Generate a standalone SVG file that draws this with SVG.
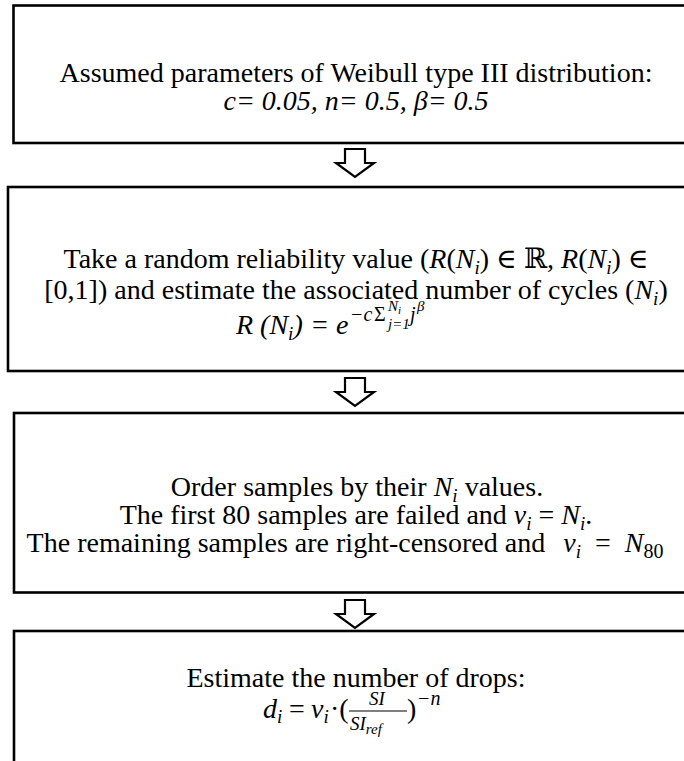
<svg xmlns="http://www.w3.org/2000/svg" width="684" height="761" viewBox="0 0 684 761">
  <style>
    .box { fill: #ffffff; stroke: #000000; stroke-width: 2.6; }
    .arrow { fill: #ffffff; stroke: #000000; stroke-width: 2.2; stroke-linejoin: miter; }
    text { font-family: "Liberation Serif", "DejaVu Serif", serif; font-size: 28px; fill: #000000; }
    .c { text-anchor: middle; }
    .m { font-style: italic; }
    .s { font-size: 19px; }
    .e { font-size: 20px; }
    .ss { font-size: 15px; }
  </style>
  <defs>
    <path id="down" d="M -10,0 H 10 V 14 H 19 L 0,28 L -19,14 H -10 Z"/>
  </defs>
  <rect width="684" height="761" fill="#ffffff"/>

  <g id="connectors">
    <use href="#down" class="arrow" transform="translate(355,149)"/>
    <use href="#down" class="arrow" transform="translate(355,378)"/>
    <use href="#down" class="arrow" transform="translate(355,600)"/>
  </g>

  <!-- Step 1: assumed distribution parameters -->
  <g id="step-parameters">
    <rect class="box" x="13.5" y="5.5" width="700" height="137.5"/>
    <text class="c" x="356" y="82">Assumed parameters of Weibull type III distribution:</text>
    <text class="c m" x="356" y="110">c= 0.05, n= 0.5, β= 0.5</text>
  </g>

  <!-- Step 2: random reliability value and cycles -->
  <g id="step-reliability">
    <rect class="box" x="8" y="187" width="700" height="184"/>
    <text class="c" x="356" y="268">Take a random reliability value (<tspan class="m">R</tspan>(<tspan class="m">N</tspan><tspan class="s m" dy="6">i</tspan><tspan dy="-6">) ∈ ℝ, </tspan><tspan class="m">R</tspan>(<tspan class="m">N</tspan><tspan class="s m" dy="6">i</tspan><tspan dy="-6">) ∈</tspan></text>
    <text class="c" x="356" y="299">[0,1]) and estimate the associated number of cycles (<tspan class="m">N</tspan><tspan class="s m" dy="6">i</tspan><tspan dy="-6">)</tspan></text>
    <!-- R(N_i) = e^(-c * sum_{j=1}^{N_i} j^beta) -->
    <text class="m" x="236" y="334">R (N<tspan class="s" dy="6">i</tspan><tspan dy="-6">)</tspan></text>
    <text x="312" y="334">=</text>
    <text class="m" x="336" y="334">e</text>
    <text class="m e" x="350" y="321">−c</text>
    <text class="e" x="374" y="321">Σ</text>
    <text class="m ss" x="388" y="311">N<tspan font-size="11" dy="3">i</tspan></text>
    <text class="m ss" x="388" y="329">j=1</text>
    <text class="m e" x="410" y="321">j</text>
    <text class="m ss" x="417" y="311">β</text>
  </g>

  <!-- Step 3: ordering and censoring -->
  <g id="step-censoring">
    <rect class="box" x="14" y="413" width="700" height="179.5"/>
    <text class="c" x="357" y="496">Order samples by their <tspan class="m">N</tspan><tspan class="s m" dy="6">i</tspan><tspan dy="-6"> values.</tspan></text>
    <text class="c" x="356" y="524">The first 80 samples are failed and <tspan class="m">v</tspan><tspan class="s m" dy="6">i</tspan><tspan dy="-6"> = </tspan><tspan class="m">N</tspan><tspan class="s m" dy="6">i</tspan><tspan dy="-6">.</tspan></text>
    <text class="c" x="345" y="552">The remaining samples are right-censored and<tspan class="m" dx="18">v</tspan><tspan class="s m" dy="6">i</tspan><tspan dy="-6" dx="14">=</tspan><tspan class="m" dx="14">N</tspan><tspan class="e" dy="6">80</tspan></text>
  </g>

  <!-- Step 4: number of drops -->
  <g id="step-drops">
    <rect class="box" x="14" y="631" width="700" height="200"/>
    <text class="c" x="356" y="687">Estimate the number of drops:</text>
    <text class="m" x="263" y="718">d<tspan class="s" dy="5">i</tspan></text>
    <text x="289" y="718">=</text>
    <text class="m" x="311" y="718">v<tspan class="s" dy="5">i</tspan></text>
    <text x="330" y="718">·(</text>
    <text class="m s c" x="377" y="705">SI</text>
    <line x1="349" y1="711" x2="407" y2="711" stroke="#000000" stroke-width="1.2"/>
    <text class="m s" x="350" y="730">SI<tspan class="ss" dy="4">ref</tspan></text>
    <text x="407" y="718">)</text>
    <text class="m e" x="417" y="705">−n</text>
  </g>
</svg>
